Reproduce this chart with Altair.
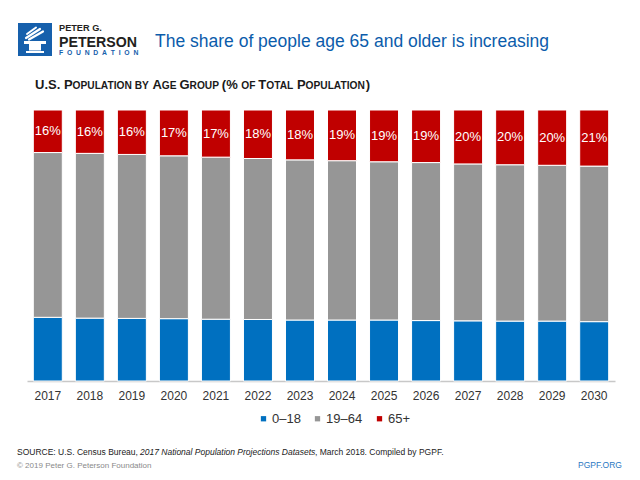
import altair as alt
import pandas as pd

# ---------------- data ----------------
years = ["2017", "2018", "2019", "2020", "2021", "2022", "2023",
         "2024", "2025", "2026", "2027", "2028", "2029", "2030"]
age_0_18 = [23.5, 23.2, 23.1, 23.0, 22.8, 22.7, 22.5, 22.5, 22.5, 22.3, 22.2, 22.1, 22.1, 21.9]
age_19_64 = [60.8, 60.8, 60.5, 60.1, 59.8, 59.4, 59.1, 58.8, 58.4, 58.3, 57.9, 57.7, 57.5, 57.4]
age_65_up = [15.7, 16.0, 16.4, 16.9, 17.4, 17.9, 18.4, 18.7, 19.1, 19.4, 19.9, 20.2, 20.4, 20.7]
groups = ["0–18", "19–64", "65+"]
colors = ["#0070C0", "#969696", "#C00000"]

rows = []
for i, y in enumerate(years):
    for k, (g, vals) in enumerate(zip(groups, [age_0_18, age_19_64, age_65_up])):
        rows.append({"year": y, "group": g, "value": vals[i], "order": k})
df = pd.DataFrame(rows)

lab_df = pd.DataFrame({
    "year": years,
    "mid": [100 - v / 2 for v in age_65_up],
    "label": [f"{round(v)}%" for v in age_65_up],
})

# ---------------- layout ----------------
OX, OY = 27, 110          # plot-area origin in the page
W, H = 588, 271
SANS = "Liberation Sans, Arial, sans-serif"
BLUE_T = "#0B5CAB"
ONE = pd.DataFrame({"k": [0]})


def txt(s, x, y, size, color="#222222", weight="normal", font=SANS,
        align="left", style="normal"):
    return alt.Chart(ONE).mark_text(
        text=s, align=align, baseline="alphabetic", fontSize=size,
        fontWeight=weight, font=font, color=color, fontStyle=style
    ).encode(x=alt.value(x - OX), y=alt.value(y - OY))


def box(x1, y1, x2, y2, color):
    return alt.Chart(ONE).mark_rect(color=color).encode(
        x=alt.value(x1 - OX), x2=alt.value(x2 - OX),
        y=alt.value(y1 - OY), y2=alt.value(y2 - OY))


def seg(x1, y1, x2, y2, color, w=2):
    return alt.Chart(ONE).mark_rule(color=color, strokeWidth=w, strokeCap="round").encode(
        x=alt.value(x1 - OX), x2=alt.value(x2 - OX),
        y=alt.value(y1 - OY), y2=alt.value(y2 - OY))


# Arial/Liberation Sans Bold advance widths (em) for the small-caps subtitle
BOLD_W = {"U": .722, ".": .278, "S": .667, " ": .278, "P": .667, "O": .778,
          "L": .611, "A": .722, "T": .611, "I": .278, "N": .722, "B": .722,
          "Y": .667, "G": .778, "E": .667, "R": .722, "(": .333, "%": .889,
          "F": .611, ")": .333}
BIG, SMALL = 13.0, 10.2
sub_pieces = [("U.S. P", BIG), ("OPULATION BY ", SMALL), ("A", BIG), ("GE ", SMALL),
              ("G", BIG), ("ROUP ", SMALL), ("(% ", BIG), ("OF ", SMALL), ("T", BIG),
              ("OTAL ", SMALL), ("P", BIG), ("OPULATION", SMALL), (")", BIG)]
decor = []
cx = 35
for s, sz in sub_pieces:
    decor.append(txt(s, cx, 88.5, sz, color="#1A1A1A", weight="bold"))
    cx += sum(BOLD_W[c] for c in s) * sz

# logo
decor += [
    box(18, 23, 52, 56, "#1660AC"),
    seg(26, 38, 40, 29, "white", 2.2),
    seg(29, 39.5, 43, 31.5, "white", 2.2),
    seg(27, 34, 36, 27.5, "white", 2),
    box(24, 41, 46, 44, "white"),
    box(29, 44, 41, 50.5, "white"),
    box(26, 51, 44, 53, "white"),
    txt("PETER G.", 59, 30.5, 9.2, color="#231F20", weight="bold"),
    txt("PETERSON", 59, 46.7, 14.2, color="#231F20", weight="bold"),
    txt("\u00a0\u00a0".join("FOUNDATION"), 59, 54.8, 6.8, color="#1660AC", weight="bold"),
    txt("The share of people age 65 and older is increasing", 155, 46.7, 17.5, color=BLUE_T),
]

# footer
decor += [
    txt("SOURCE: U.S. Census Bureau, ", 17, 455, 8.5),
    txt("2017 National Population Projections Datasets", 140, 455, 8.5, style="italic"),
    txt(", March 2018. Compiled by PGPF.", 315, 455, 8.5),
    txt("© 2019 Peter G. Peterson Foundation", 17, 467.5, 8, color="#8A8A8A"),
    txt("PGPF.ORG", 622, 467.5, 8.5, color="#2A78C2", align="right"),
]

bars = alt.Chart(df).mark_bar(stroke="white", strokeWidth=1).encode(
    x=alt.X("year:O", sort=years,
            scale=alt.Scale(paddingInner=0.31, paddingOuter=0.15),
            axis=alt.Axis(title=None, labelAngle=0, labelFont=SANS, labelFontSize=12,
                          labelColor="#333333", labelPadding=9, ticks=False,
                          domainColor="#C8C8C8", domainWidth=1.5, grid=False)),
    y=alt.Y("value:Q", stack="zero", scale=alt.Scale(domain=[0, 100], nice=False), axis=None),
    color=alt.Color("group:N", sort=groups,
                    scale=alt.Scale(domain=groups, range=colors),
                    legend=alt.Legend(title=None, orient="none", legendX=230, legendY=302,
                                      direction="horizontal", symbolType="square",
                                      symbolSize=28, symbolStrokeWidth=0,
                                      labelFont=SANS, labelFontSize=13, labelColor="#333333",
                                      columnPadding=10, labelOffset=2, padding=0)),
    order=alt.Order("order:Q"),
)

labels = alt.Chart(lab_df).mark_text(color="white", fontSize=13, font=SANS).encode(
    x=alt.X("year:O", sort=years),
    y=alt.Y("mid:Q"),
    text="label:N",
)

chart = alt.layer(bars, labels, *decor).properties(
    width=W, height=H,
    padding={"left": OX, "top": OY, "right": 640 - OX - W, "bottom": 480 - OY - H},
    autosize=alt.AutoSizeParams(type="none"),
).configure_view(stroke=None)

chart.save("out.html", embed_options={"renderer": "svg", "actions": False})
